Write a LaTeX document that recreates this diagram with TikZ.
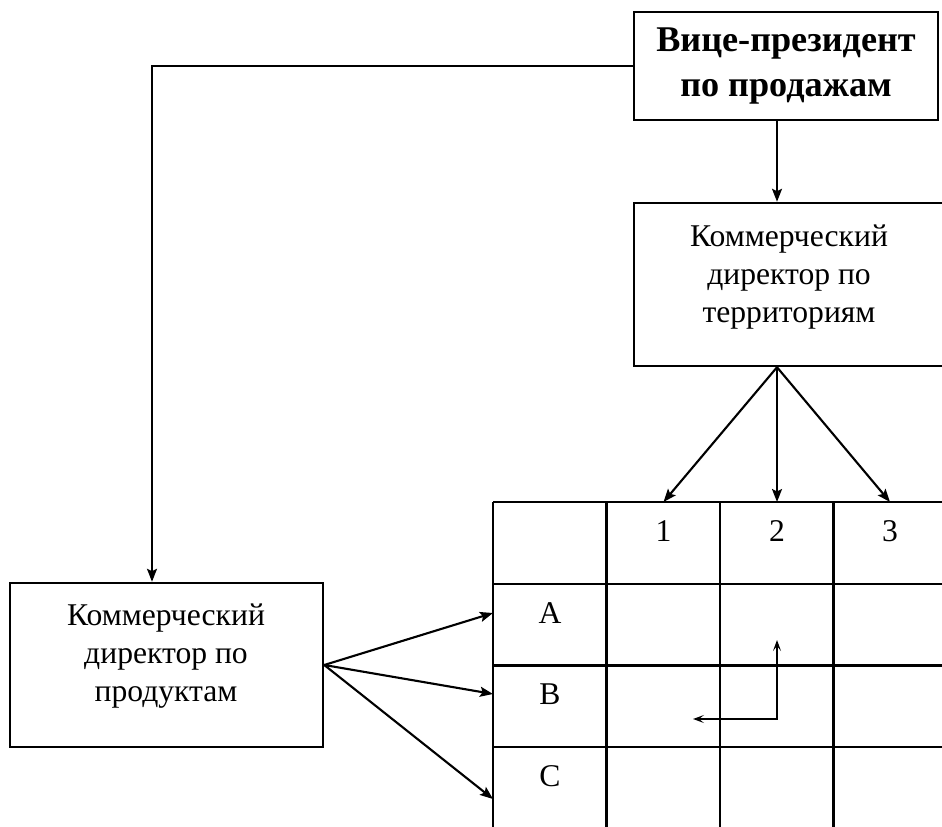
\documentclass[tikz,border=0pt]{standalone}
\usepackage{fontspec}
\setmainfont{Liberation Serif}
\usetikzlibrary{arrows.meta,positioning,calc}

\begin{document}
\begin{tikzpicture}[
  font=\fontsize{9}{10.8}\selectfont,
  line width=0.6pt,
  box/.style={draw, line width=0.7pt, align=center, inner sep=0pt},
  txt/.style={align=center, inner sep=0pt},
  cell/.style={inner sep=0pt},
  arr/.style={-{Stealth[length=1.3mm, width=1mm, inset=0.25mm]}},
  sarr/.style={<->, >={Stealth[length=1.1mm, width=0.8mm, inset=0.5mm]}},
]
\useasboundingbox (0,0) rectangle (9.42,8.26);
\clip (0,0) rectangle (9.42,8.26);

% ---- the three managers ----
\node[box, minimum width=30.4mm, minimum height=10.8mm,
      font=\fontsize{10.3}{12.8}\selectfont\bfseries] (vp) at (7.86,7.60) {Вице-президент\\по продажам};
\node[box, minimum width=31.2mm, minimum height=16.3mm] (terr) at (7.90,5.415) {};
\node[txt] (terrtxt) at (7.89,5.485) {Коммерческий\\директор по\\территориям};
\node[box, minimum width=31.3mm, minimum height=16.4mm] (prod) at (1.665,1.61) {};
\node[txt] (prodtxt) at (1.66,1.695) {Коммерческий\\директор по\\продуктам};

% ---- the matrix of territories x products ----
\coordinate (gtop) at (4.93,3.24);
\draw[xstep=1.135, ystep=0.8175, shift={(gtop)}] (0,0) grid (4.54,-3.27);
\node[cell] (h1) at (6.635,2.95) {1};
\node[cell] (h2) at (7.77,2.95)  {2};
\node[cell] (h3) at (8.90,2.95)  {3};
\node[cell] (ra) at (5.50,2.13)  {A};
\node[cell] (rb) at (5.50,1.32)  {B};
\node[cell] (rc) at (5.50,0.50)  {C};

% ---- reporting lines ----
\coordinate (drop) at (1.52,7.60);
\draw[arr] (vp.west) -- (drop) -- (drop |- prod.north);
\draw[arr] (vp.south -| h2) -- (terr.north -| h2);
\draw[arr] (terr.south -| h2) -- (h1 |- gtop);
\draw[arr] (terr.south -| h2) -- (h2 |- gtop);
\draw[arr] (terr.south -| h2) -- (h3 |- gtop);
\coordinate (cin) at (4.93,0.27);
\draw[arr] (prod.east) -- (gtop |- ra);
\draw[arr] (prod.east) -- (gtop |- rb);
\draw[arr] (prod.east) -- (cin);

% ---- the cell's two lines of command ----
\coordinate (up)   at (7.77,1.86);
\coordinate (turn) at (7.77,1.07);
\coordinate (left) at (6.93,1.07);
\draw[sarr] (up) -- (turn) -- (left);
\end{tikzpicture}
\end{document}
